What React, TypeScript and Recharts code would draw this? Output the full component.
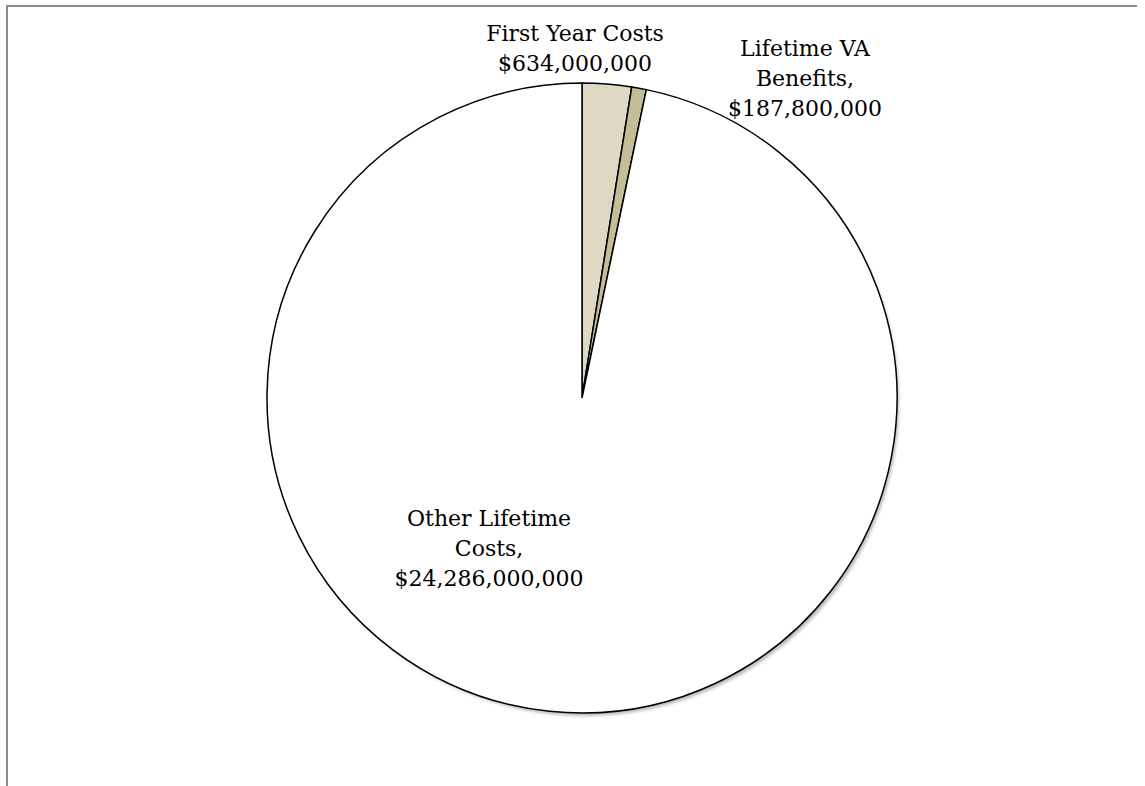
import React from 'react';
import { PieChart, Pie, Cell } from 'recharts';

// slice names, split into the lines shown on the chart
const sliceNames = ['First Year Costs', 'Lifetime VA Benefits', 'Other Lifetime Costs'];
const labelLines = [
  ['First Year Costs', '$634,000,000'],
  ['Lifetime VA', 'Benefits,', '$187,800,000'],
  ['Other Lifetime', 'Costs,', '$24,286,000,000'],
];
const sliceValues = [634000000, 187800000, 24286000000];
const sliceColors = ['#DDD9C3', '#C4BD97', '#FFFFFF'];

// label anchor offsets, in units of the pie radius
const labelOffsets = [
  { dx: -0.022, dy: -1.11 },
  { dx: 0.708, dy: -1.015 },
  { dx: -0.295, dy: 0.477 },
];

const chartData = sliceNames.map((name, i) => ({ name, value: sliceValues[i] }));
const shadowData = [{ name: 'shadow', value: sliceValues.reduce((a, b) => a + b, 0) }];

const FONT = '"DejaVu Serif", serif';

function renderLabel(props: any) {
  const { cx, cy, outerRadius, index } = props;
  const off = labelOffsets[index];
  const lines = labelLines[index];
  const x = cx + off.dx * outerRadius;
  const y = cy + off.dy * outerRadius;
  const lineH = 30;
  const top = y - ((lines.length - 1) * lineH) / 2;
  return (
    <text
      key={`lbl-${index}`}
      x={x}
      y={top}
      textAnchor="middle"
      dominantBaseline="central"
      fontFamily={FONT}
      fontSize={22}
      fill="#000"
    >
      {lines.map((l, i) => (
        <tspan key={i} x={x} y={top + i * lineH} dominantBaseline="central">
          {l}
        </tspan>
      ))}
    </text>
  );
}

export default function App() {
  return (
    <div style={{ position: 'absolute', left: 0, top: 0, width: 1145, height: 786, background: '#fff' }}>
      {/* frame lines of the cropped figure */}
      <div style={{ position: 'absolute', left: 7, top: 5, width: 1130, height: 2, background: '#8c8c8c' }} />
      <div style={{ position: 'absolute', left: 6, top: 5, width: 2, height: 781, background: '#8c8c8c' }} />
      <PieChart
        width={1145}
        height={786}
        margin={{ top: 0, right: 0, bottom: 0, left: 0 }}
        style={{ position: 'absolute', left: 0, top: 0 }}
      >
        <defs>
          <filter id="pieShadow" x="-10%" y="-10%" width="120%" height="120%">
            <feGaussianBlur stdDeviation="1.5" />
          </filter>
        </defs>
        <Pie
          data={shadowData}
          dataKey="value"
          cx={585}
          cy={402}
          outerRadius={314}
          startAngle={90}
          endAngle={-270}
          stroke="none"
          fill="#bdbdbd"
          style={{ filter: 'url(#pieShadow)' }}
          isAnimationActive={false}
        />
        <Pie
          data={chartData}
          dataKey="value"
          cx={582}
          cy={398}
          outerRadius={315}
          startAngle={90}
          endAngle={-270}
          stroke="#000"
          strokeWidth={1.5}
          label={renderLabel}
          labelLine={false}
          isAnimationActive={false}
        >
          {chartData.map((d, i) => (
            <Cell key={d.name} fill={sliceColors[i]} />
          ))}
        </Pie>
      </PieChart>
    </div>
  );
}
